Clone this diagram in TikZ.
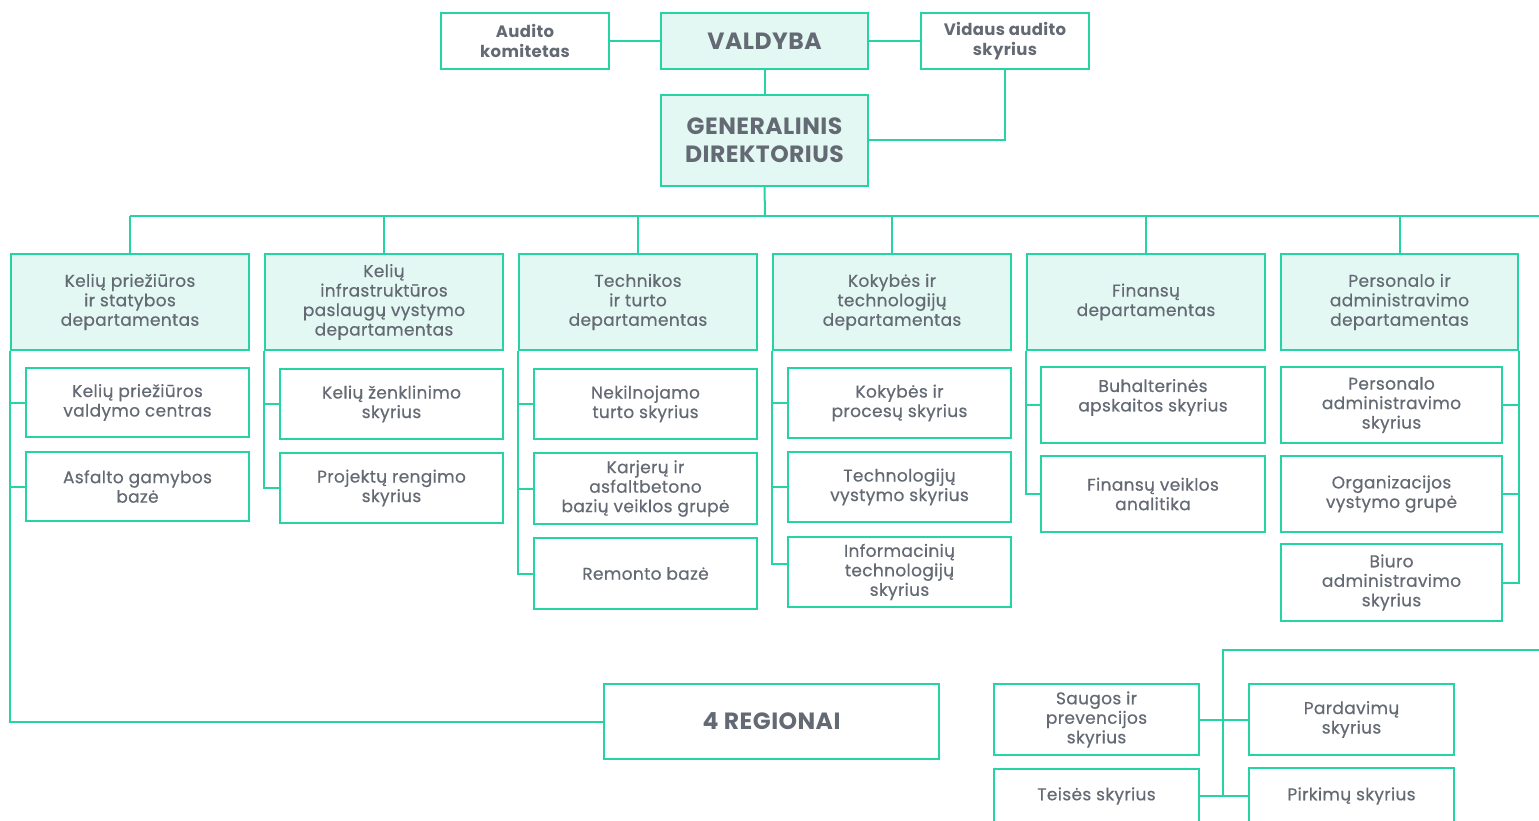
\documentclass[tikz,border=0pt]{standalone}
\usepackage{fontspec}
\setmainfont{Poppins}[LetterSpace=2, UprightFeatures={FakeBold=0.5}]
\definecolor{ln}{RGB}{38,211,163}
\definecolor{fl}{RGB}{228,248,243}
\definecolor{tx}{RGB}{100,106,116}
\newcommand{\obox}[7]{\node[#1, minimum width={(#5)-(#3)}, minimum height={(#6)-(#4)}] (#2) at ({((#3)+(#5))/2},{((#4)+(#6))/2}) {#7};}
\begin{document}
\begin{tikzpicture}[x=1pt,y=-1pt,
 base/.style={draw=ln, line width=2pt, align=center, text=tx, inner sep=0pt, font=\fontsize{17}{19.5}\selectfont},
 dept/.style={base, fill=fl},
 sub/.style={base, fill=white},
 topbox/.style={base, fill=white, font=\bfseries\fontsize{16.5}{20}\selectfont},
 bigbox/.style={base, fill=fl, font=\bfseries\fontsize{23.5}{28}\selectfont},
 regbox/.style={base, fill=white, font=\bfseries\fontsize{23.5}{26}\selectfont},
 conn/.style={draw=ln, line width=2pt}]
\useasboundingbox (0,0) rectangle (1539,821);
\clip (0,0) rectangle (1539,821);
% top
\obox{topbox}{ak}{441}{13}{609}{69}{Audito\\komitetas}
\obox{bigbox}{vb}{661}{13}{868}{69}{VALDYBA}
\obox{topbox}{vas}{921}{13}{1089}{69}{Vidaus audito\\skyrius}
\obox{bigbox}{gd}{661}{95}{868}{186}{GENERALINIS\\DIREKTORIUS}
% departments
\obox{dept}{d1}{11}{254}{249}{350}{Kelių priežiūros\\ir statybos\\departamentas}
\obox{dept}{d2}{265}{254}{503}{350}{Kelių\\infrastruktūros\\paslaugų vystymo\\departamentas}
\obox{dept}{d3}{519}{254}{757}{350}{Technikos\\ir turto\\departamentas}
\obox{dept}{d4}{773}{254}{1011}{350}{Kokybės ir\\technologijų\\departamentas}
\obox{dept}{d5}{1027}{254}{1265}{350}{Finansų\\departamentas}
\obox{dept}{d6}{1281}{254}{1518}{350}{Personalo ir\\administravimo\\departamentas}
% sub units
\obox{sub}{s11}{26}{368}{249}{437}{Kelių priežiūros\\valdymo centras}
\obox{sub}{s12}{26}{452}{249}{521}{Asfalto gamybos\\bazė}
\obox{sub}{s21}{280}{369}{503}{439}{Kelių ženklinimo\\skyrius}
\obox{sub}{s22}{280}{453}{503}{523}{Projektų rengimo\\skyrius}
\obox{sub}{s31}{534}{369}{757}{439}{Nekilnojamo\\turto skyrius}
\obox{sub}{s32}{534}{453}{757}{524}{Karjerų ir\\asfaltbetono\\bazių veiklos grupė}
\obox{sub}{s33}{534}{538}{757}{609}{Remonto bazė}
\obox{sub}{s41}{788}{368}{1011}{438}{Kokybės ir\\procesų skyrius}
\obox{sub}{s42}{788}{452}{1011}{522}{Technologijų\\vystymo skyrius}
\obox{sub}{s43}{788}{537}{1011}{607}{Informacinių\\technologijų\\skyrius}
\obox{sub}{s51}{1041}{367}{1265}{443}{Buhalterinės\\apskaitos skyrius\\~}
\obox{sub}{s52}{1041}{456}{1265}{532}{Finansų veiklos\\analitika}
\obox{sub}{s61}{1281}{367}{1502}{443}{Personalo\\administravimo\\skyrius}
\obox{sub}{s62}{1281}{456}{1502}{532}{Organizacijos\\vystymo grupė}
\obox{sub}{s63}{1281}{544}{1502}{621}{Biuro\\administravimo\\skyrius}
% bottom
\obox{regbox}{reg}{604}{684}{939}{759}{4 REGIONAI}
\obox{sub}{sau}{994}{684}{1199}{755}{Saugos ir\\prevencijos\\skyrius}
\obox{sub}{par}{1249}{684}{1454}{755}{Pardavimų\\skyrius}
\obox{sub}{tei}{994}{769}{1199}{823}{Teisės skyrius}
\obox{sub}{pir}{1249}{768}{1454}{824}{Pirkimų skyrius}
% connectors top
\draw[conn] (ak.east) -- (vb.west);
\draw[conn] (vb.east) -- (vas.west);
\draw[conn] (vb.south) -- (gd.north);
\draw[conn] (vas.south) |- (gd.east);
\coordinate (bus) at (765,216);
\coordinate (busR) at (1545,216);
\draw[conn] (gd.south) -- (bus);
\draw[conn] (d1.north |- bus) -- (busR);
\foreach \d in {d1,d2,d3,d4,d5,d6} {\draw[conn] (\d.north |- bus) -- (\d.north);}
% column spines
\draw[conn] (d1.south west) |- (reg.west);
\foreach \s in {s11,s12} {\draw[conn] (d1.south west |- \s.west) -- (\s.west);}
\draw[conn] (d2.south west) |- (s22.west);
\draw[conn] (d2.south west |- s21.west) -- (s21.west);
\draw[conn] (d3.south west) |- (s33.west);
\foreach \s in {s31,s32} {\draw[conn] (d3.south west |- \s.west) -- (\s.west);}
\coordinate (t43) at ([yshift=8pt]s43.west);
\draw[conn] (d4.south west) |- (t43);
\foreach \s in {s41,s42} {\draw[conn] (d4.south west |- \s.west) -- (\s.west);}
\draw[conn] (d5.south west) |- (s52.west);
\draw[conn] (d5.south west |- s51.west) -- (s51.west);
\draw[conn] (d6.south east) |- (s63.east);
\foreach \s in {s61,s62} {\draw[conn] (d6.south east |- \s.east) -- (\s.east);}
% bottom right group
\coordinate (brT) at (1223,650);
\coordinate (brR) at (1545,650);
\coordinate (brB) at (1223,796);
\draw[conn] (brR) -- (brT) -- (brB);
\draw[conn] (sau.east) -- (par.west);
\draw[conn] (tei.east) -- (pir.west);
\end{tikzpicture}
\end{document}
